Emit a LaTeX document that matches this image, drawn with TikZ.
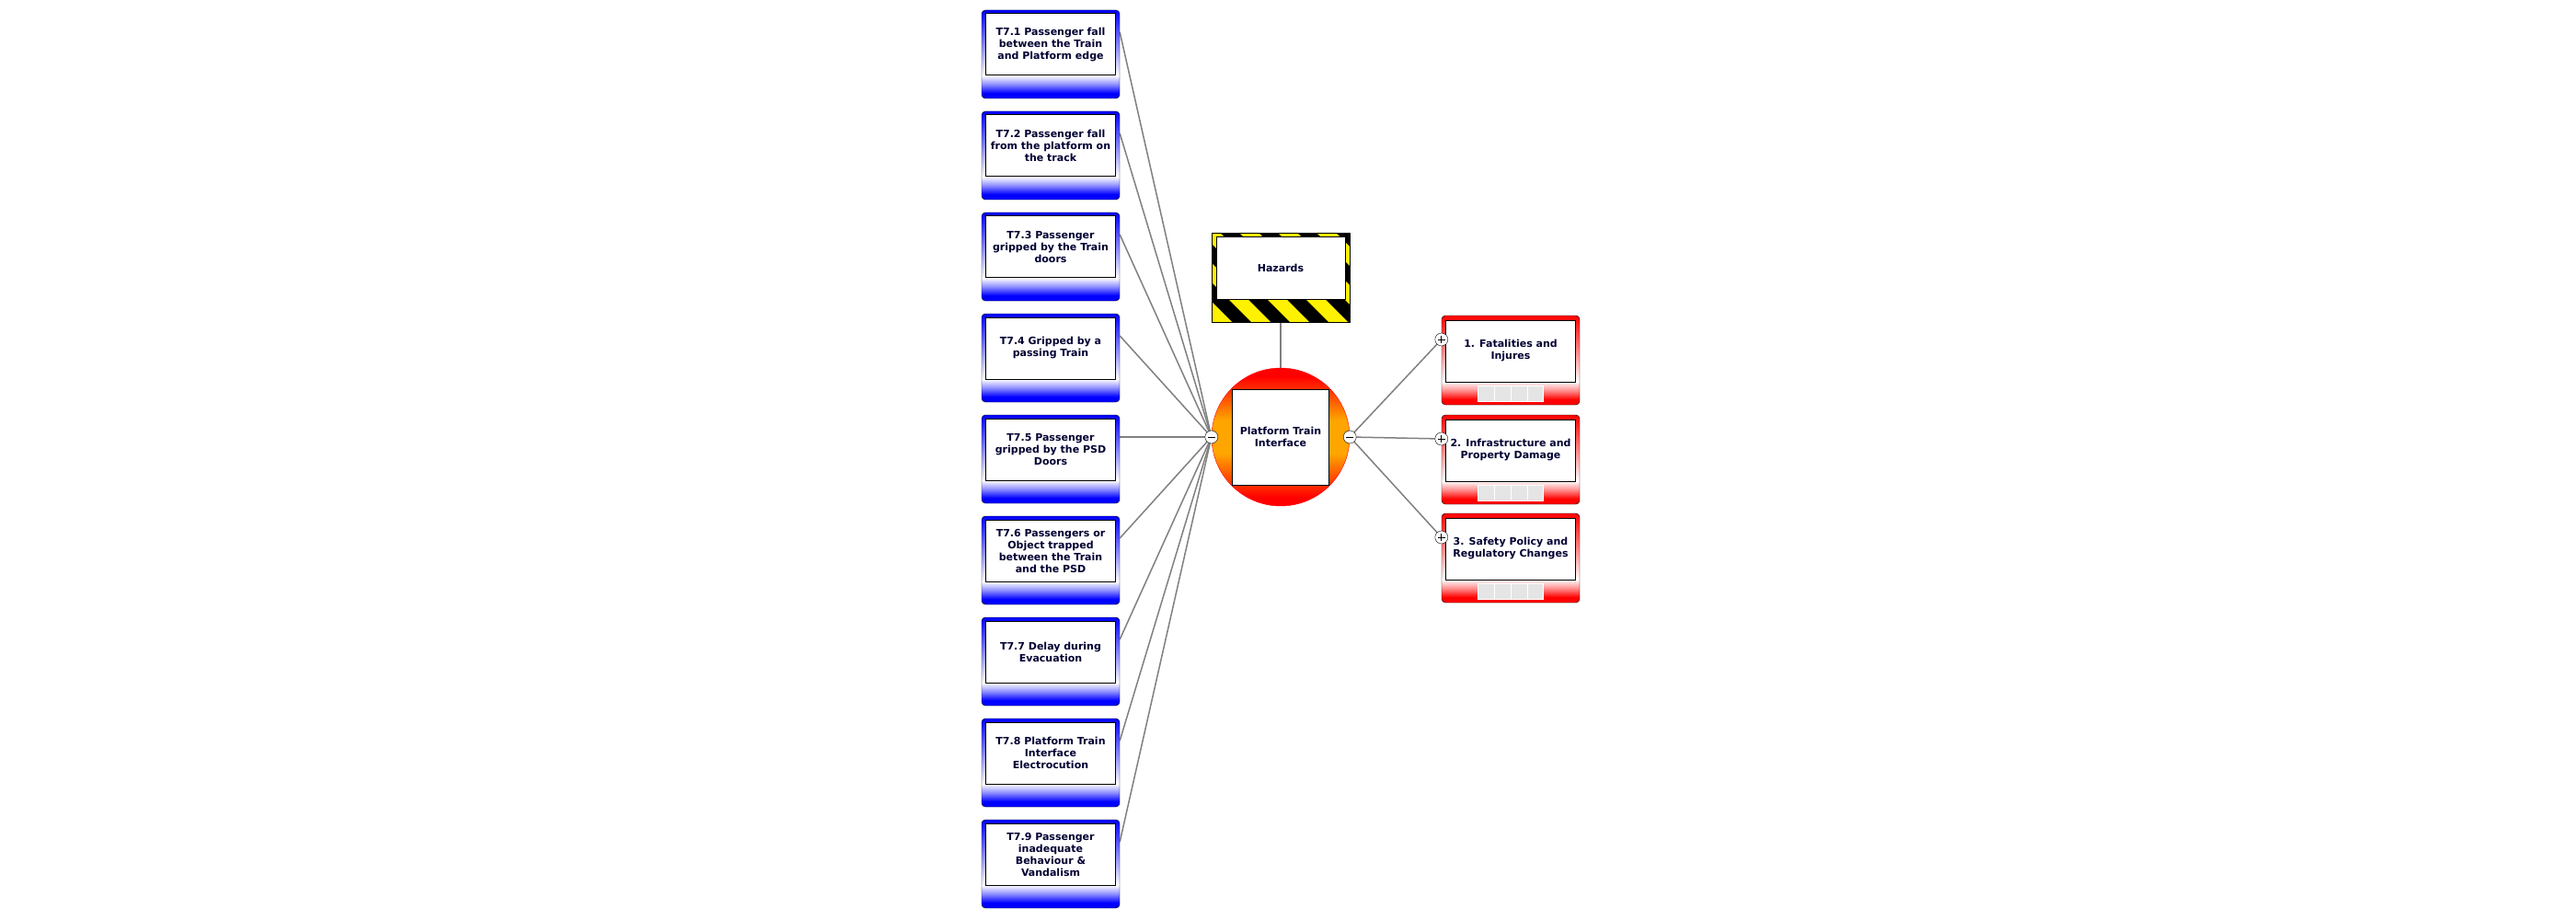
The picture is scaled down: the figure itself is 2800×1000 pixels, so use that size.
\documentclass[tikz,border=0pt]{standalone}
\usepackage{fontspec}
\setmainfont{DejaVu Sans}
\usetikzlibrary{positioning,backgrounds}

\definecolor{navy}{RGB}{0,0,51}
\definecolor{wiregray}{RGB}{128,128,128}
\definecolor{huborange}{RGB}{255,165,0}

\pgfdeclareverticalshading{bluegrad}{100bp}{color(0bp)=(blue); color(28bp)=(blue); color(33bp)=(blue!45!white); color(38bp)=(white); color(75bp)=(blue); color(100bp)=(blue)}
\pgfdeclareverticalshading{redgrad}{100bp}{color(0bp)=(red); color(28bp)=(red); color(33bp)=(red!45!white); color(38bp)=(white); color(75bp)=(red); color(100bp)=(red)}
\pgfdeclareverticalshading{hubgrad}{100bp}{color(0bp)=(red); color(28bp)=(red); color(44bp)=(huborange); color(56bp)=(huborange); color(72bp)=(red); color(100bp)=(red)}

\begin{document}
\begin{tikzpicture}[
        x=1pt, y=-1pt,
        cause/.style={draw=black, rounded corners=4pt, shade, shading=bluegrad, minimum width=150pt, minimum height=96pt, inner sep=0pt},
        effect/.style={draw=black, rounded corners=4pt, shade, shading=redgrad, minimum width=150pt, minimum height=97pt, inner sep=0pt,
            path picture={\foreach \k in {0,...,3}
                \draw[white, fill=black!10, sharp corners] ([xshift={-35.5pt+\k*17.75pt}, yshift=-27.5pt]path picture bounding box.center) rectangle ++(17.75pt,-17pt);}},
        hazard/.style={draw=black, fill=black, minimum width=150pt, minimum height=97pt, inner sep=0pt,
            path picture={\foreach \k in {-6,...,3}
                \fill[yellow] ([xshift={\k*42pt-3pt}]path picture bounding box.north) -- ++(21pt,0) -- ++(100pt,-100pt) -- ++(-21pt,0) -- cycle;}},
        hub/.style={circle, draw=red, shade, shading=hubgrad, minimum size=150pt, inner sep=0pt},
        inbox/.style={draw=black, line width=1pt, fill=white, minimum width=141pt, minimum height=67pt, inner sep=0pt, align=center, font=\fontsize{11}{13}\selectfont\bfseries, text=navy},
        minusknob/.style={circle, draw=black, fill=white, minimum size=14pt, inner sep=0pt,
            path picture={\draw[line width=1pt] ([xshift=-4pt]path picture bounding box.center) -- ([xshift=4pt]path picture bounding box.center);}},
        plusknob/.style={circle, draw=black, fill=white, minimum size=14pt, inner sep=0pt,
            path picture={\draw[line width=1pt] ([xshift=-4pt]path picture bounding box.center) -- ([xshift=4pt]path picture bounding box.center)
                ([yshift=-4pt]path picture bounding box.center) -- ([yshift=4pt]path picture bounding box.center);}},
        wire/.style={draw=wiregray, line width=1.5pt}
    ]

    \useasboundingbox (0,0) rectangle (2800,1000);

    % Nodes - Causes (left column)
    \node[cause] (c1) at (1142,59) {};
    \node[inbox] (c1l) at ([yshift=10.5pt]c1.center) {T7.1 Passenger fall\\between the Train\\and Platform edge};
    \node[cause] (c2) at (1142,169) {};
    \node[inbox] (c2l) at ([yshift=10.5pt]c2.center) {T7.2 Passenger fall\\from the platform on\\the track};
    \node[cause] (c3) at (1142,279) {};
    \node[inbox] (c3l) at ([yshift=10.5pt]c3.center) {T7.3 Passenger\\gripped by the Train\\doors};
    \node[cause] (c4) at (1142,389) {};
    \node[inbox] (c4l) at ([yshift=10.5pt]c4.center) {T7.4 Gripped by a\\passing Train};
    \node[cause] (c5) at (1142,499) {};
    \node[inbox] (c5l) at ([yshift=10.5pt]c5.center) {T7.5 Passenger\\gripped by the PSD\\Doors};
    \node[cause] (c6) at (1142,609) {};
    \node[inbox] (c6l) at ([yshift=10.5pt]c6.center) {T7.6 Passengers or\\Object trapped\\between the Train\\and the PSD};
    \node[cause] (c7) at (1142,719) {};
    \node[inbox] (c7l) at ([yshift=10.5pt]c7.center) {T7.7 Delay during\\Evacuation};
    \node[cause] (c8) at (1142,829) {};
    \node[inbox] (c8l) at ([yshift=10.5pt]c8.center) {T7.8 Platform Train\\Interface\\Electrocution};
    \node[cause] (c9) at (1142,939) {};
    \node[inbox] (c9l) at ([yshift=10.5pt]c9.center) {T7.9 Passenger\\inadequate\\Behaviour \&\\Vandalism};

    % Nodes - Hazard and central event
    \node[hazard] (haz) at (1392,301.5) {};
    \node[inbox, minimum width=140pt] (hazl) at ([yshift=10pt]haz.center) {Hazards};
    \node[hub] (hub) at (1392,475) {};
    \node[inbox, minimum width=105pt, minimum height=104pt] (pti) at (hub.center) {Platform Train\\Interface};
    \node[minusknob] (lm) at (hub.west) {};
    \node[minusknob] (rm) at (hub.east) {};

    % Nodes - Consequences (right column)
    \node[effect] (e1) at (1642,391.5) {};
    \node[inbox] (e1l) at ([yshift=10pt]e1.center) {1. Fatalities and\\Injures};
    \node[effect] (e2) at (1642,499.5) {};
    \node[inbox] (e2l) at ([yshift=10pt]e2.center) {2. Infrastructure and\\Property Damage};
    \node[effect] (e3) at (1642,606.5) {};
    \node[inbox] (e3l) at ([yshift=10pt]e3.center) {3. Safety Policy and\\Regulatory Changes};
    \node[plusknob] (p1) at ([yshift=22.5pt]e1.west) {};
    \node[plusknob] (p2) at ([yshift=22.5pt]e2.west) {};
    \node[plusknob] (p3) at ([yshift=22.5pt]e3.west) {};

    % Connectors
    \begin{pgfonlayer}{background}
    \draw[wire] ([yshift=24pt]c1.east) -- (lm.center);
    \draw[wire] ([yshift=24pt]c2.east) -- (lm.center);
    \draw[wire] ([yshift=24pt]c3.east) -- (lm.center);
    \draw[wire] ([yshift=24pt]c4.east) -- (lm.center);
    \draw[wire] ([yshift=24pt]c5.east) -- (lm.center);
    \draw[wire] ([yshift=24pt]c6.east) -- (lm.center);
    \draw[wire] ([yshift=24pt]c7.east) -- (lm.center);
    \draw[wire] ([yshift=24pt]c8.east) -- (lm.center);
    \draw[wire] ([yshift=24pt]c9.east) -- (lm.center);
    \draw[wire] (haz.south) -- (hub.north);
    \draw[wire] (rm.center) -- (p1.center);
    \draw[wire] (rm.center) -- (p2.center);
    \draw[wire] (rm.center) -- (p3.center);
    \end{pgfonlayer}

\end{tikzpicture}
\end{document}
